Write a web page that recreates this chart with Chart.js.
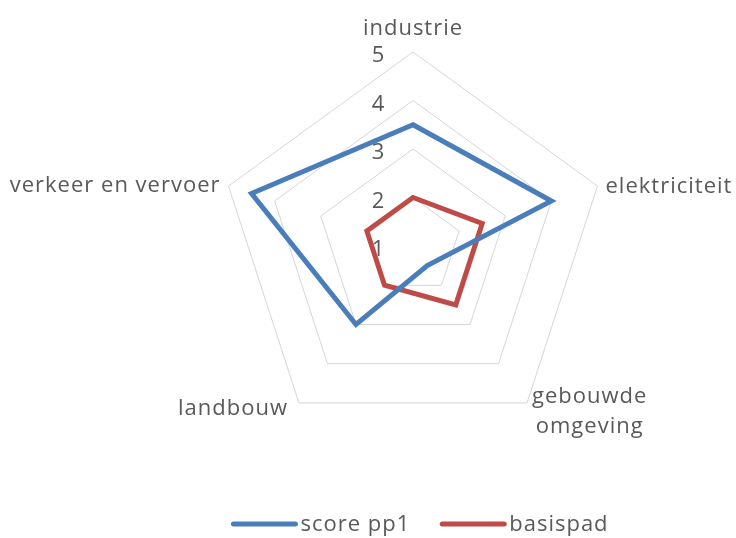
<!DOCTYPE html>
<html>
<head>
<meta charset="utf-8">
<script src="https://cdn.jsdelivr.net/npm/chart.js@4/dist/chart.umd.min.js"></script>
<style>
  html, body { margin: 0; padding: 0; background: #fff; }
  #wrap { width: 736px; height: 538px; }
</style>
</head>
<body>
<div id="wrap"><canvas id="radarChart" width="736" height="538"></canvas></div>
<script>
// categories (axes) of the radar, multi-line label as an array
const categories = ['industrie', 'elektriciteit', ['gebouwde', 'omgeving'], 'landbouw', 'verkeer en vervoer'];
// series values
const scorePp1 = [3.5, 4, 1.5, 3, 4.5];
const basispad = [2, 2.5, 2.5, 2, 2];
const seriesNames = ['score pp1', 'basispad'];
// tick labels on the vertical axis
const tickValues = [1, 2, 3, 4, 5];

const blue = '#4A7EBB';
const red = '#BE4B48';
const textColor = '#595959';
const fontSize = 22;
const fontFamily = '"Open Sans", "Noto Sans", sans-serif';

// where each axis label sits relative to its outer vertex
const labelOffsets = [
  { align: 'center', dx: 0, dy: -17 },
  { align: 'left', dx: 8, dy: 7 },
  { align: 'block', dx: 5, dy: 0 },
  { align: 'right', dx: -11, dy: 12 },
  { align: 'right', dx: -8, dy: 6 }
];

// draws tick labels, axis labels and the legend the way Excel does
const excelText = {
  id: 'excelText',
  afterDatasetsDraw(chart) {
    const ctx = chart.ctx;
    const scale = chart.scales.r;
    ctx.save();
    ctx.fillStyle = textColor;
    ctx.font = fontSize + 'px ' + fontFamily;
    ctx.textBaseline = 'alphabetic';

    // tick labels left of the top axis
    ctx.textAlign = 'center';
    tickValues.forEach(v => {
      const y = scale.yCenter - scale.getDistanceFromCenterForValue(v);
      ctx.fillText(String(v), scale.xCenter - 35, y + 10);
    });

    // the reference text runs a bit wider than Open Sans
    ctx.letterSpacing = '1px';

    // axis labels
    categories.forEach((lab, i) => {
      const p = scale.getPointPosition(i, scale.drawingArea);
      const o = labelOffsets[i];
      if (o.align === 'block') {
        const lines = Array.isArray(lab) ? lab : [lab];
        const w = Math.max(...lines.map(l => ctx.measureText(l).width));
        ctx.textAlign = 'center';
        lines.forEach((l, k) => ctx.fillText(l, p.x + o.dx + w / 2, p.y + o.dy + k * 30));
      } else {
        ctx.textAlign = o.align;
        ctx.fillText(lab, p.x + o.dx, p.y + o.dy);
      }
    });

    // legend: line sample followed by the series name
    const lineLen = 66, gap = 3, itemGap = 30, legendY = 524;
    const items = chart.data.datasets.map(ds => ({ text: ds.label, color: ds.borderColor, w: ctx.measureText(ds.label).width }));
    const total = items.reduce((s, it) => s + lineLen + gap + it.w, 0) + itemGap * (items.length - 1);
    let x = 420 - total / 2;
    ctx.textAlign = 'left';
    ctx.textBaseline = 'middle';
    ctx.lineCap = 'round';
    ctx.lineWidth = 5;
    items.forEach(it => {
      ctx.strokeStyle = it.color;
      ctx.beginPath();
      ctx.moveTo(x + 2, legendY);
      ctx.lineTo(x + lineLen - 2, legendY);
      ctx.stroke();
      ctx.fillText(it.text, x + lineLen + gap, legendY + 1);
      x += lineLen + gap + it.w + itemGap;
    });
    ctx.restore();
  }
};

new Chart(document.getElementById('radarChart'), {
  type: 'radar',
  data: {
    labels: categories,
    datasets: [
      { label: seriesNames[0], data: scorePp1, borderColor: blue, backgroundColor: blue, borderWidth: 5, fill: false, pointRadius: 0 },
      { label: seriesNames[1], data: basispad, borderColor: red, backgroundColor: red, borderWidth: 5, fill: false, pointRadius: 0 }
    ]
  },
  options: {
    responsive: false,
    animation: false,
    layout: { padding: { top: 52, bottom: 98, left: 90, right: 0 } },
    plugins: {
      legend: { display: false },
      tooltip: { enabled: false }
    },
    scales: {
      r: {
        min: 1,
        max: 5,
        ticks: { stepSize: 1, display: false },
        pointLabels: { display: false },
        angleLines: { display: false },
        grid: { color: '#D6D6D6', lineWidth: 1 }
      }
    }
  },
  plugins: [excelText]
});
</script>
</body>
</html>
